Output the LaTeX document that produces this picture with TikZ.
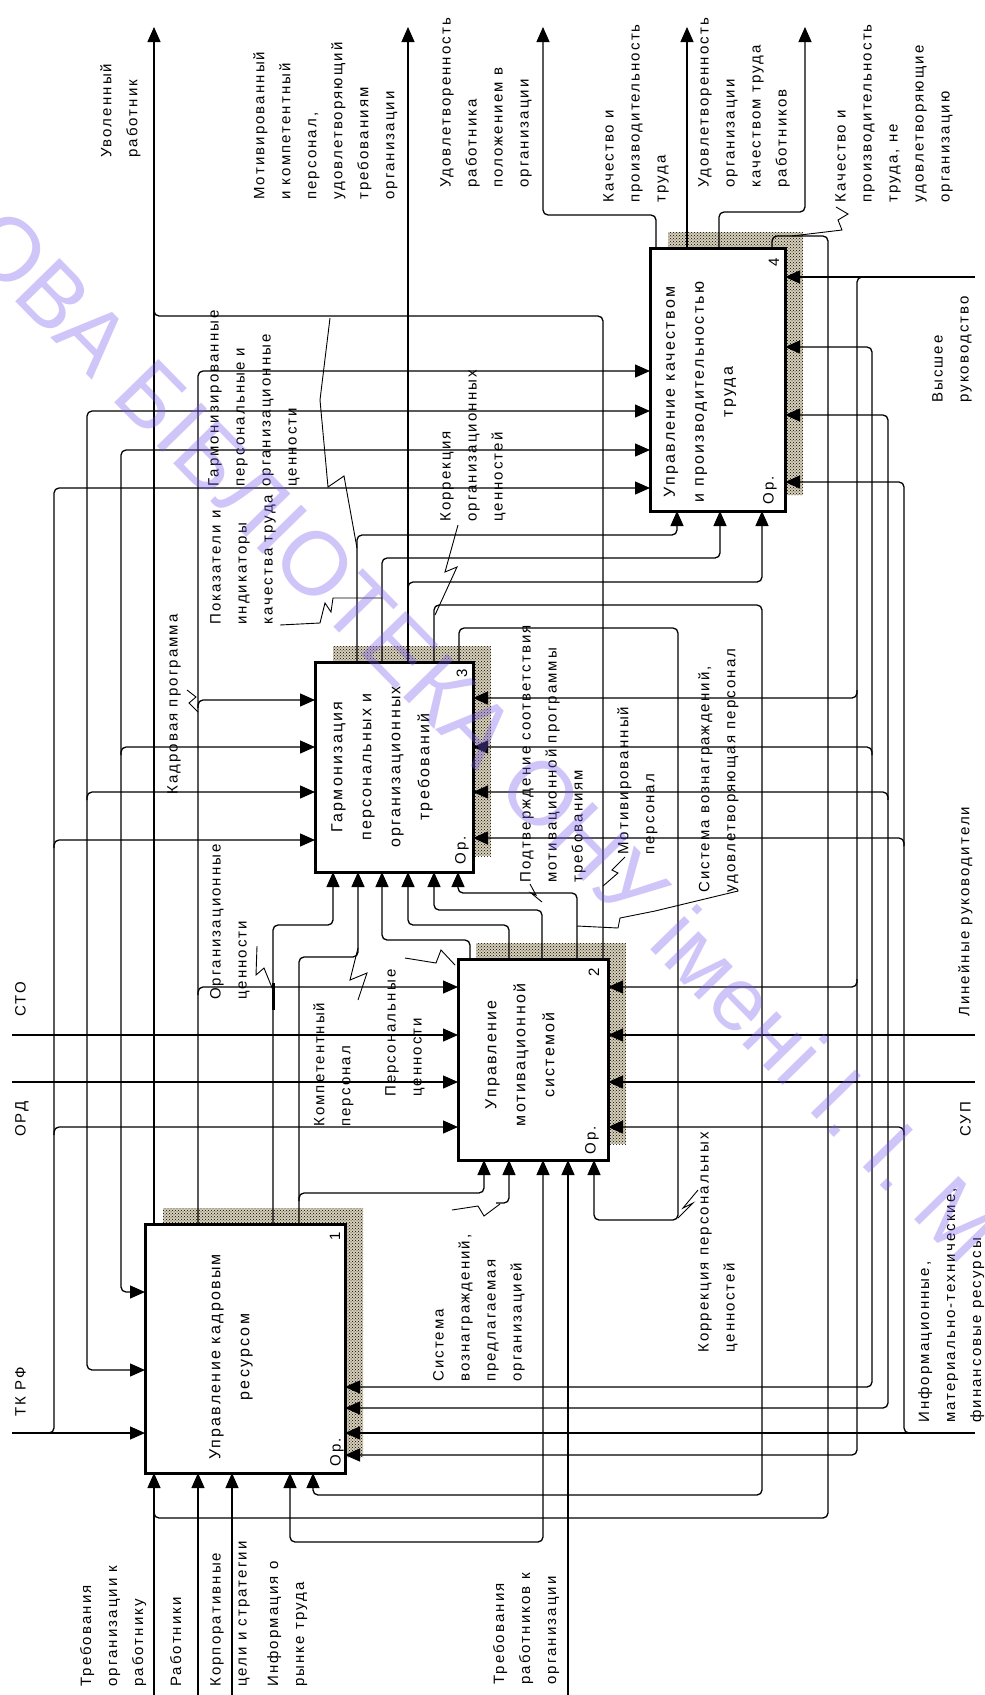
\documentclass[tikz,border=0pt]{standalone}
\usepackage{fontspec}
\setmainfont{Liberation Sans}
\newfontfamily\lblfont[LetterSpace=14]{Liberation Sans}
\newfontfamily\wmfont{Liberation Sans}
\usepackage{tikz}
\usetikzlibrary{arrows.meta,patterns,backgrounds}
\definecolor{hatchbg}{RGB}{214,206,184}
\definecolor{wmcol}{RGB}{120,90,235}

\begin{document}
\begin{tikzpicture}[x=1pt,y=-1pt,
  conn/.style={line width=1.3pt, rounded corners=5pt},
  arr/.style={conn, -{Triangle[length=15pt,width=13pt]}},
  leader/.style={line width=0.9pt},
  fbox/.style={draw, line width=3pt, fill=white, outer sep=0pt, inner sep=0pt},
  hatchy/.style={fill=hatchbg, postaction={pattern=crosshatch dots, pattern color=black}},
  lab/.style={rotate=90, anchor=north west, align=left, inner sep=0pt, font={\lblfont\fontsize{15}{26}\selectfont}},
  btext/.style={rotate=90, align=center, inner sep=0pt, font={\lblfont\fontsize{16}{29}\selectfont}},
  bnum/.style={rotate=90, inner sep=0pt, font={\lblfont\fontsize{15}{15}\selectfont}}]
\useasboundingbox (0,0) rectangle (985,1695);

\node[fbox, minimum width=200pt, minimum height=249pt] (b1) at (245,1348.5) {};
\node[fbox, minimum width=150pt, minimum height=201pt] (b2) at (533,1059.5) {};
\node[fbox, minimum width=158pt, minimum height=210pt] (b3) at (394,767) {};
\node[fbox, minimum width=135pt, minimum height=263pt] (b4) at (717.5,379.5) {};

\begin{scope}[on background layer]
\foreach \b in {b1,b2,b3,b4}
  \path[hatchy] ([shift={(18,-16)}]\b.south west) rectangle ([shift={(18,-16)}]\b.north east);
\end{scope}

% controls
\draw[arr] (12,1433) -- (b1.west |- 0,1433);
\draw[arr] (44,1433) -- (54,1433) -- (54,488) -- (b4.west |- 0,488);
\draw[arr] (54,848) -- (54,840) -- (b3.west |- 0,840);
\draw[arr] (54,1135) -- (54,1127) -- (b2.west |- 0,1127);
\draw[arr] (12,1082) -- (b2.west |- 0,1082);
\draw[arr] (87,1082) -- (87,411) -- (b4.west |- 0,411);
\draw[arr] (87,1082) -- (87,1370) -- (b1.west |- 0,1370);
\draw[arr] (87,800) -- (87,792) -- (b3.west |- 0,792);
\draw[arr] (12,1035) -- (b2.west |- 0,1035);
\draw[arr] (121,1035) -- (121,450) -- (b4.west |- 0,450);
\draw[arr] (121,1035) -- (121,1292) -- (b1.west |- 0,1292);
\draw[arr] (121,755) -- (121,747) -- (b3.west |- 0,747);

% outputs of box 1
\draw[arr] (b1.north -| 154,0) -- (154,27);
\draw[arr] (b1.north -| 198,0) -- (198,371) -- (b4.west |- 0,371);
\draw[arr] (198,708) -- (198,700) -- (b3.west |- 0,700);
\draw[arr] (198,995) -- (198,987) -- (b2.west |- 0,987);
\draw[arr] (b1.north -| 273,0) -- (273,925) -- (333,925) -- (b3.south -| 333,0);
\draw[arr] (b1.north -| 299,0) -- (299,957) -- (358,957) -- (b3.south -| 358,0);
\draw[arr] (299,1201) -- (299,1193) -- (484,1193) -- (b2.south -| 484,0);

% outputs of box 2
\draw[conn] (b2.north -| 603,0) -- (603,316) -- (154,316) -- (154,306);
\draw[arr] (b2.north -| 470,0) -- (470,940) -- (382,940) -- (b3.south -| 382,0);
\draw[arr] (b2.north -| 509,0) -- (509,925) -- (408,925) -- (b3.south -| 408,0);
\draw[arr] (b2.north -| 542,0) -- (542,910) -- (434,910) -- (b3.south -| 434,0);
\draw[arr] (b2.north -| 577,0) -- (577,893) -- (458,893) -- (b3.south -| 458,0);

% outputs of box 3
\draw[arr] (b3.north -| 408,0) -- (408,27);
\draw[arr] (408,590) -- (408,582) -- (762,582) -- (b4.south -| 762,0);
\draw[arr] (b3.north -| 357,0) -- (357,535) -- (677,535) -- (b4.south -| 677,0);
\draw[arr] (b3.north -| 382,0) -- (382,558) -- (720,558) -- (b4.south -| 720,0);
\draw[arr] (b3.north -| 434,0) -- (434,605) -- (762,605) -- (762,1495) -- (313,1495) -- (b1.south -| 313,0);
\draw[arr] (b3.north -| 459,0) -- (459,628) -- (678,628) -- (678,1220) -- (594,1220) -- (b2.south -| 594,0);

% outputs of box 4
\draw[arr] (b4.north -| 656,0) -- (656,215) -- (543,215) -- (543,27);
\draw[arr] (b4.north -| 687,0) -- (687,27);
\draw[arr] (b4.north -| 719,0) -- (719,212) -- (805,212) -- (805,27);
\draw[conn] (b4.north -| 772,0) -- (772,236) -- (828,236) -- (828,1518) -- (154,1518) -- (154,1508);

% mechanisms
\draw[arr] (975,277) -- (b4.east |- 0,277);
\draw[arr] (866,277) -- (857,277) -- (857,1455) -- (b1.east |- 0,1455);
\draw[arr] (857,690) -- (857,698) -- (b3.east |- 0,698);
\draw[arr] (857,979) -- (857,987) -- (b2.east |- 0,987);
\draw[arr] (975,1035) -- (b2.east |- 0,1035);
\draw[arr] (872,1035) -- (872,347) -- (b4.east |- 0,347);
\draw[arr] (872,1035) -- (872,1387) -- (b1.east |- 0,1387);
\draw[arr] (872,755) -- (872,747) -- (b3.east |- 0,747);
\draw[arr] (975,1082) -- (b2.east |- 0,1082);
\draw[arr] (888,1082) -- (888,415) -- (b4.east |- 0,415);
\draw[arr] (888,1082) -- (888,1408) -- (b1.east |- 0,1408);
\draw[arr] (888,800) -- (888,792) -- (b3.east |- 0,792);
\draw[arr] (975,1433) -- (b1.east |- 0,1433);
\draw[arr] (912,1433) -- (904,1433) -- (904,482) -- (b4.east |- 0,482);
\draw[arr] (904,846) -- (904,838) -- (b3.east |- 0,838);
\draw[arr] (904,1135) -- (904,1127) -- (b2.east |- 0,1127);

% inputs
\draw[arr] (154,1695) -- (b1.south -| 154,0);
\draw[arr] (198,1695) -- (b1.south -| 198,0);
\draw[arr] (232,1695) -- (b1.south -| 232,0);
\draw[arr] (568,1695) -- (b2.south -| 568,0);
\draw[conn, {Triangle[length=15pt,width=13pt]}-{Triangle[length=15pt,width=13pt]}] (b1.south -| 290,0) -- (290,1542) -- (543,1542) -- (b2.south -| 543,0);
\draw[arr] (496,1203) -- (509,1203) -- (b2.south -| 509,0);

% leaders
\draw[leader] (330,318) -- (320,400) -- (328,487) -- (344,476) -- (357,548);
\draw[leader] (280,625) -- (320,623) -- (325,603) -- (331,612) -- (333,598) -- (382,598);
\draw[leader] (187,690) -- (196,697) -- (189,703) -- (198,712);
\draw[leader] (458,525) -- (445,572) -- (457,567) -- (435,615);
\draw[leader] (257,946) -- (256,975) -- (264,968) -- (273,990);
\draw[line width=3pt] (273,983) -- (273,1010);
\draw[leader] (358,948) -- (350,980) -- (367,973) -- (358,1000);
\draw[leader] (405,958) -- (436,963) -- (441,950) -- (455,965);
\draw[leader] (530,884) -- (536,895) -- (531,893) -- (542,902);
\draw[leader] (625,857) -- (612,870) -- (618,873) -- (603,886);
\draw[leader] (738,891) -- (655,911) -- (620,918) -- (618,928) -- (577,926);
\draw[leader] (698,1190) -- (683,1208) -- (693,1203) -- (678,1218);
\draw[leader] (452,1210) -- (478,1206) -- (484,1216) -- (500,1204);
\draw[leader] (836,207) -- (848,214) -- (838,220) -- (842,230) -- (792,236);

% box texts
\node[btext] (t1) at (231,1357) {Управление кадровым\\ресурсом};
\node[btext] (t2) at (520,1055) {Управление\\мотивационной\\системой};
\node[btext] (t3) at (382,767) {Гармонизация\\персональных и\\организационных\\требований};
\node[btext] (t4) at (700,392) {Управление качеством\\и производительностью\\труда};
\node[bnum] (n1) at (335,1236) {1};
\node[bnum] (n2) at (594,972) {2};
\node[bnum] (n3) at (462,673) {3};
\node[bnum] (n4) at (774,262) {4};
\node[bnum] (o1) at (337,1452) {Ор.};
\node[bnum] (o2) at (592,1140) {Ор.};
\node[bnum] (o3) at (462,850) {Ор.};
\node[bnum] (o4) at (770,490) {Ор.};

% labels
\node[lab] (lUvol) at (100,158) {Уволенный\\работник};
\node[lab] (lMotKomp) at (253,200) {Мотивированный\\и компетентный\\персонал,\\удовлетворяющий\\требованиям\\организации};
\node[lab] (lUdRab) at (440,188) {Удовлетворенность\\работника\\положением в\\организации};
\node[lab] (lKach) at (603,203) {Качество и\\производительность\\труда};
\node[lab] (lUdOrg) at (698,188) {Удовлетворенность\\организации\\качеством труда\\работников};
\node[lab] (lKachNe) at (835,203) {Качество и\\производительность\\труда, не\\удовлетворяющие\\организацию};
\node[lab] (lVyssh) at (932,403) {Высшее\\руководство};
\node[lab] (lGarm) at (208,487) {Гармонизированные\\персональные и\\организационные\\ценности};
\node[lab] (lPokaz) at (210,625) {Показатели и\\индикаторы\\качества труда};
\node[lab] (lKorOrg) at (440,522) {Коррекция\\организационных\\ценностей};
\node[lab] (lKadr) at (167,795) {Кадровая программа};
\node[lab] (lPodtv) at (520,883) {Подтверждение соответствия\\мотивационной программы\\требованиям};
\node[lab] (lMotiv) at (617,855) {Мотивированный\\персонал};
\node[lab] (lSysUd) at (698,893) {Система вознаграждений,\\удовлетворяющая персонал};
\node[lab] (lLin) at (958,1017) {Линейные руководители};
\node[lab] (lSTO) at (15,1017) {СТО};
\node[lab] (lORD) at (15,1137) {ОРД};
\node[lab] (lTK) at (15,1417) {ТК РФ};
\node[lab] (lOrgC) at (210,1000) {Организационные\\ценности};
\node[lab] (lKomp) at (313,1127) {Компетентный\\персонал};
\node[lab] (lPersC) at (385,1097) {Персональные\\ценности};
\node[lab] (lSUP) at (960,1137) {СУП};
\node[lab] (lKorPers) at (698,1353) {Коррекция персональных\\ценностей};
\node[lab] (lSysOrg) at (433,1382) {Система\\вознаграждений,\\предлагаемая\\организацией};
\node[lab] (lInf) at (918,1423) {Информационные,\\материально-технические,\\финансовые ресурсы};
\node[lab] (lTrebOrg) at (80,1687) {Требования\\организации к\\работнику};
\node[lab] (lRab) at (170,1687) {Работники};
\node[lab] (lKorp) at (210,1687) {Корпоративные\\цели и стратегии};
\node[lab] (lInfR) at (267,1687) {Информация о\\рынке труда};
\node[lab] (lTrebRab) at (493,1685) {Требования\\работников к\\организации};

\node[rotate=-45.6, text=wmcol, text opacity=0.35, inner sep=0pt, font={\wmfont\fontsize{90}{90}\selectfont}] (wmark) at (485,735) {ОВА БІБЛІОТЕКА ОНУ імені І. І. М};
\end{tikzpicture}
\end{document}
